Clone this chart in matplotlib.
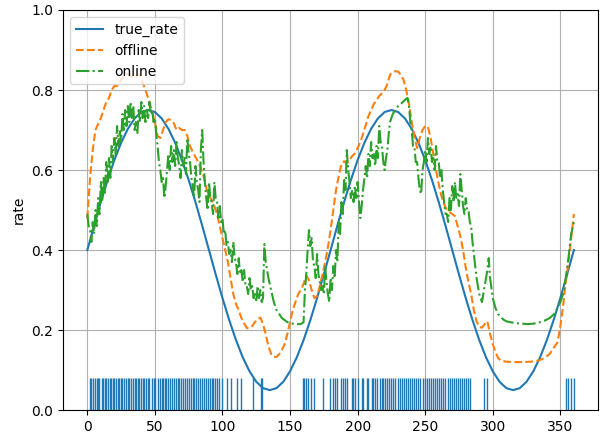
import numpy as np
import matplotlib
matplotlib.use("Agg")
import matplotlib.pyplot as plt

# --- data ---
true_x = list(range(0, 361, 5))
true_rate = [
    0.400, 0.461, 0.520, 0.575, 0.625, 0.668, 0.703, 0.729, 0.745, 0.750,
    0.745, 0.729, 0.703, 0.668, 0.625, 0.575, 0.520, 0.461, 0.400, 0.339,
    0.280, 0.225, 0.175, 0.132, 0.097, 0.071, 0.055, 0.050, 0.055, 0.071,
    0.097, 0.132, 0.175, 0.225, 0.280, 0.339, 0.400, 0.461, 0.520, 0.575,
    0.625, 0.668, 0.703, 0.729, 0.745, 0.750, 0.745, 0.729, 0.703, 0.668,
    0.625, 0.575, 0.520, 0.461, 0.400, 0.339, 0.280, 0.225, 0.175, 0.132,
    0.097, 0.071, 0.055, 0.050, 0.055, 0.071, 0.097, 0.132, 0.175, 0.225,
    0.280, 0.339, 0.400,
]

offline_x = [
    0, 2, 4, 6, 8, 10, 12, 14, 16, 18, 20, 22, 24, 26, 28, 30, 32, 34, 36, 38,
    40, 42, 44, 46, 48, 50, 52, 54, 56, 58, 60, 62, 64, 66, 68, 70, 72, 74, 76, 78,
    80, 82, 84, 86, 88, 90, 92, 94, 96, 98, 100, 102, 104, 106, 108, 110, 112, 114, 116, 118,
    120, 122, 124, 126, 128, 130, 132, 134, 136, 138, 140, 142, 144, 146, 148, 150, 152, 154, 156, 158,
    160, 162, 164, 166, 168, 170, 172, 174, 176, 178, 180, 182, 184, 186, 188, 190, 192, 194, 196, 198,
    200, 202, 204, 206, 208, 210, 212, 214, 216, 218, 220, 222, 224, 226, 228, 230, 232, 234, 236, 238,
    240, 242, 244, 246, 248, 250, 252, 254, 256, 258, 260, 262, 264, 266, 268, 270, 272, 274, 276, 278,
    280, 282, 284, 286, 288, 290, 292, 294, 296, 298, 300, 302, 304, 306, 310, 316, 322, 328, 334, 338,
    342, 346, 348, 350, 352, 354, 356, 358, 360,
]
offline = [
    0.48, 0.58, 0.65, 0.70, 0.715, 0.73, 0.75, 0.77, 0.78, 0.80, 0.81, 0.81, 0.82, 0.83, 0.84, 0.84, 0.835, 0.83, 0.835, 0.84,
    0.825, 0.81, 0.79, 0.77, 0.745, 0.72, 0.685, 0.68, 0.70, 0.72, 0.727, 0.725, 0.717, 0.70, 0.705, 0.70, 0.70, 0.685, 0.66, 0.645,
    0.633, 0.62, 0.605, 0.585, 0.555, 0.535, 0.525, 0.51, 0.49, 0.46, 0.43, 0.40, 0.37, 0.33, 0.29, 0.265, 0.25, 0.23, 0.217, 0.205,
    0.205, 0.21, 0.22, 0.228, 0.231, 0.215, 0.19, 0.16, 0.14, 0.133, 0.133, 0.14, 0.15, 0.165, 0.19, 0.22, 0.25, 0.27, 0.29, 0.30,
    0.316, 0.336, 0.325, 0.30, 0.28, 0.285, 0.31, 0.34, 0.37, 0.407, 0.45, 0.50, 0.55, 0.585, 0.615, 0.622, 0.616, 0.625, 0.635, 0.642,
    0.655, 0.67, 0.69, 0.712, 0.735, 0.75, 0.765, 0.775, 0.785, 0.792, 0.80, 0.815, 0.838, 0.845, 0.847, 0.846, 0.838, 0.825, 0.80, 0.765,
    0.72, 0.683, 0.655, 0.68, 0.70, 0.71, 0.708, 0.68, 0.64, 0.60, 0.565, 0.535, 0.515, 0.50, 0.495, 0.49, 0.485, 0.46, 0.435, 0.40,
    0.356, 0.32, 0.29, 0.25, 0.222, 0.208, 0.206, 0.215, 0.222, 0.19, 0.165, 0.145, 0.13, 0.124, 0.121, 0.12, 0.12, 0.121, 0.124, 0.13,
    0.14, 0.16, 0.17, 0.21, 0.26, 0.32, 0.37, 0.43, 0.49,
]

# online estimate, (x, rate) pairs
online_pts = [
    (0, 0.49), (1, 0.46), (2, 0.45), (3, 0.42), (4, 0.47), (5, 0.44), (6, 0.50), (7, 0.46), (8, 0.53), (9, 0.49),
    (10, 0.57), (11, 0.52), (12, 0.58), (13, 0.54), (14, 0.62), (15, 0.57), (16, 0.63), (17, 0.58), (18, 0.66), (19, 0.62),
    (20, 0.68), (21, 0.64), (22, 0.71), (23, 0.66), (24, 0.70), (25, 0.67), (26, 0.74), (27, 0.70), (28, 0.75), (29, 0.71),
    (30, 0.76), (31, 0.72), (32, 0.77), (33, 0.73), (34, 0.76), (35, 0.70), (36, 0.72), (37, 0.69), (38, 0.75), (39, 0.72),
    (40, 0.77), (41, 0.73), (42, 0.76), (43, 0.72), (44, 0.75), (45, 0.73), (46, 0.77), (47, 0.74), (48, 0.75), (49, 0.72),
    (50, 0.73), (51, 0.69), (52, 0.66), (53, 0.62), (54, 0.60), (55, 0.57), (56, 0.58), (57, 0.53), (58, 0.56), (59, 0.60),
    (60, 0.64), (61, 0.60), (62, 0.66), (63, 0.62), (64, 0.65), (65, 0.61), (66, 0.67), (67, 0.63), (68, 0.61), (69, 0.58),
    (70, 0.65), (71, 0.61), (72, 0.63), (73, 0.59), (74, 0.68), (75, 0.64), (76, 0.62), (77, 0.58), (78, 0.56), (79, 0.53),
    (80, 0.61), (81, 0.57), (82, 0.55), (83, 0.52), (84, 0.65), (85, 0.70), (86, 0.62), (87, 0.57), (88, 0.53), (89, 0.50),
    (90, 0.57), (91, 0.53), (92, 0.52), (93, 0.49), (94, 0.57), (95, 0.53), (96, 0.52), (97, 0.48), (98, 0.51), (99, 0.47),
    (100, 0.48), (101, 0.44), (102, 0.45), (103, 0.41), (104, 0.42), (105, 0.39), (106, 0.40), (107, 0.37), (108, 0.42), (109, 0.38),
    (110, 0.37), (111, 0.34), (112, 0.38), (113, 0.34), (114, 0.35), (115, 0.32), (116, 0.35), (117, 0.31), (118, 0.31), (119, 0.29),
    (120, 0.33), (121, 0.30), (122, 0.31), (123, 0.28), (124, 0.29), (125, 0.27), (126, 0.31), (127, 0.28), (128, 0.30), (129, 0.27),
    (130, 0.28), (131, 0.415), (132, 0.37), (134, 0.33), (136, 0.30), (138, 0.27), (140, 0.25), (142, 0.24), (144, 0.23), (146, 0.225),
    (148, 0.22), (150, 0.218), (152, 0.216), (154, 0.215), (156, 0.215), (158, 0.215), (160, 0.22), (161, 0.30), (162, 0.34), (163, 0.40),
    (164, 0.45), (165, 0.41), (166, 0.43), (167, 0.37), (168, 0.36), (169, 0.33), (170, 0.39), (171, 0.34), (172, 0.32), (173, 0.30),
    (174, 0.31), (175, 0.29), (176, 0.36), (177, 0.32), (178, 0.29), (179, 0.27), (180, 0.33), (181, 0.30), (182, 0.36), (183, 0.33),
    (184, 0.40), (185, 0.37), (186, 0.47), (187, 0.44), (188, 0.52), (189, 0.49), (190, 0.58), (191, 0.55), (192, 0.65), (193, 0.60),
    (194, 0.57), (195, 0.53), (196, 0.55), (197, 0.52), (198, 0.56), (199, 0.53), (200, 0.57), (201, 0.52), (202, 0.48), (203, 0.51),
    (204, 0.55), (205, 0.58), (206, 0.61), (207, 0.58), (208, 0.64), (209, 0.61), (210, 0.67), (211, 0.63), (212, 0.64), (213, 0.61),
    (214, 0.66), (215, 0.63), (216, 0.71), (217, 0.67), (218, 0.66), (219, 0.62), (220, 0.60), (221, 0.63), (222, 0.65), (223, 0.69),
    (224, 0.72), (226, 0.74), (228, 0.75), (230, 0.76), (232, 0.765), (234, 0.772), (236, 0.778), (237, 0.78), (238, 0.76), (239, 0.72),
    (240, 0.70), (241, 0.66), (242, 0.66), (243, 0.62), (244, 0.62), (245, 0.58), (246, 0.55), (247, 0.54), (248, 0.60), (249, 0.62),
    (250, 0.65), (251, 0.62), (252, 0.68), (253, 0.64), (254, 0.66), (255, 0.62), (256, 0.63), (257, 0.60), (258, 0.66), (259, 0.62),
    (260, 0.62), (261, 0.58), (262, 0.60), (263, 0.55), (264, 0.52), (265, 0.49), (266, 0.49), (267, 0.47), (268, 0.53), (269, 0.50),
    (270, 0.56), (271, 0.52), (272, 0.57), (273, 0.53), (274, 0.54), (275, 0.51), (276, 0.59), (277, 0.55), (278, 0.51), (279, 0.49),
    (280, 0.53), (281, 0.50), (282, 0.50), (283, 0.47), (284, 0.46), (285, 0.42), (286, 0.39), (288, 0.33), (290, 0.29), (292, 0.27),
    (294, 0.31), (296, 0.35), (297, 0.38), (298, 0.33), (300, 0.28), (302, 0.255), (304, 0.24), (306, 0.232), (308, 0.226), (310, 0.222),
    (314, 0.219), (318, 0.217), (322, 0.216), (326, 0.215), (330, 0.216), (334, 0.219), (338, 0.223), (342, 0.23), (346, 0.242), (350, 0.27),
    (352, 0.29), (354, 0.33), (356, 0.38), (358, 0.44), (360, 0.47),
]
online_x = [p[0] for p in online_pts]
online = [p[1] for p in online_pts]

# spike / event times along the bottom
events = [
    2, 3, 4.5, 5.5, 7, 8, 9, 10.5, 11.5, 13, 14, 15, 16.5, 17.5, 19, 20, 21, 22.5, 23.5, 25,
    26, 27.5, 28.5, 30, 31, 32, 33.5, 35, 36, 37.5, 38.5, 40, 41, 42, 43.5, 45, 46, 47.5, 49, 50,
    52.5, 53.5, 55, 56, 57.5, 58.5, 60, 61.5, 62.5, 64, 65.5, 67, 68, 69.5, 71, 72, 73.5, 75, 76.5, 78,
    79, 80.5, 82, 83.5, 85, 86, 87.5, 89, 90.5, 92, 93, 94.5, 96, 97.5, 99.4,
    103, 106, 110.5, 114, 122.5, 128.5, 129.5,
    159.3, 160.5, 161.7, 163.5, 165.2, 167.7, 174.5, 179.5, 181.5, 183.2, 184.4, 188, 189.3, 190.5, 191.8,
    195.5, 196.7, 198, 200.4, 203, 204.2, 206.6, 207.9, 210.3, 211.6, 212.8, 214, 216.5, 217.7,
    219, 220.5, 222, 223.5, 225, 226.5, 228, 229.5, 231, 232.5, 234, 235.5, 237, 238.5, 240, 241.5,
    243, 244.5, 246, 248, 250, 251.5, 253, 254.5, 256, 257.5, 259, 260.5, 262, 263.5, 265, 266.5,
    268, 269.5, 271, 272.5, 274, 275.5, 277, 278.5, 280, 281.5, 283,
    293.6, 295.6, 354, 355.8, 358.2, 360,
]

fig, ax = plt.subplots(figsize=(6.0, 4.34), dpi=100)
fig.subplots_adjust(left=0.105, right=0.997, bottom=0.055, top=0.977)

ax.vlines(events, 0, 0.08, color='C0', linewidth=1.0)
ax.plot(true_x, true_rate, color='C0', label='true_rate')
ax.plot(offline_x, offline, '--', color='C1', label='offline')
ax.plot(online_x, online, '-.', color='C2', label='online')

ax.set_ylim(0, 1)
ax.set_ylabel('rate')
ax.grid(True)
ax.legend(loc='upper left')

fig.savefig('out.png', dpi=100)
